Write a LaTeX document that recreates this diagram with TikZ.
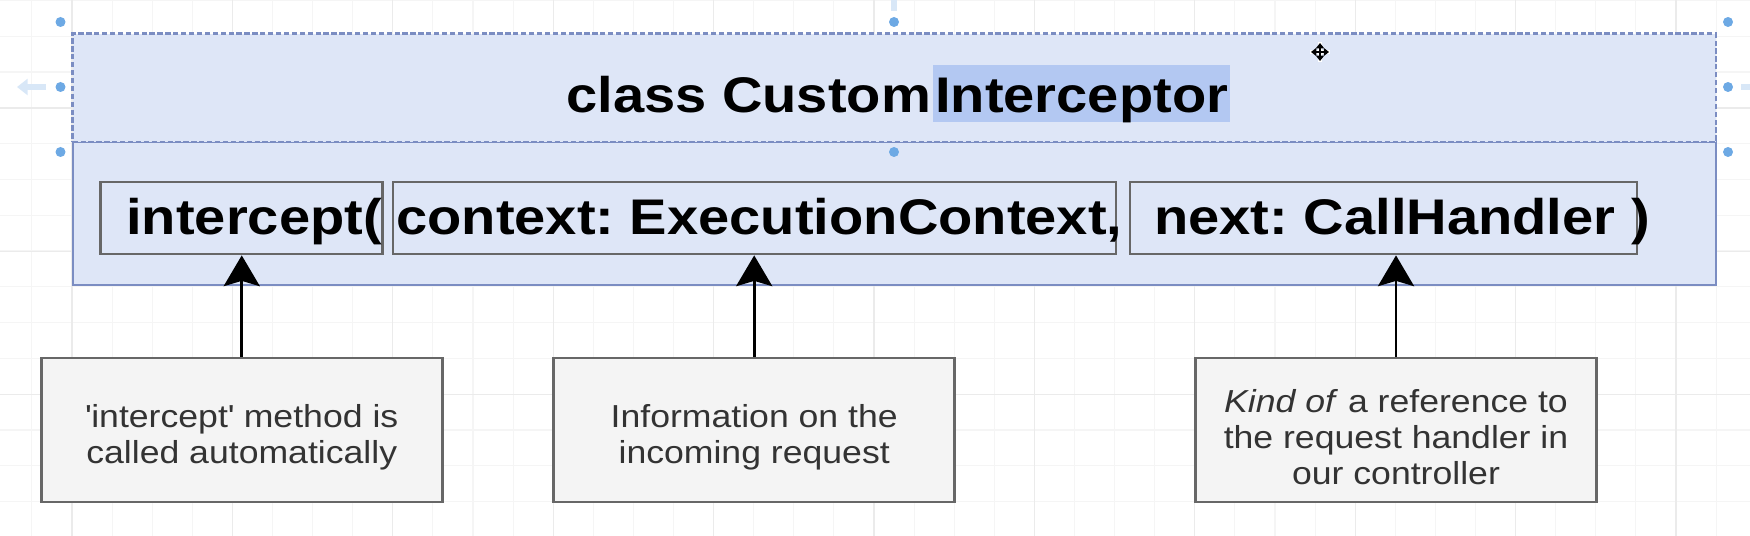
\documentclass[tikz,border=0pt]{standalone}
\usepackage{fontspec}
\setmainfont{Liberation Sans}[FakeStretch=1.12]
\usetikzlibrary{arrows.meta}
\frenchspacing
\newcommand{\notelift}{\rule{0pt}{21pt}}

\definecolor{classfill}{HTML}{DEE6F7}
\definecolor{classline}{HTML}{7B8DC2}
\definecolor{selfill}{HTML}{B3C8F2}
\definecolor{notefill}{HTML}{F4F4F4}
\definecolor{noteline}{HTML}{676767}
\definecolor{notetext}{HTML}{333333}
\definecolor{handleblue}{HTML}{6DA9E4}
\definecolor{handlefaint}{HTML}{D8E7F7}
\definecolor{gridminor}{HTML}{F5F5F5}
\definecolor{gridmajor}{HTML}{EBEBEB}

\begin{document}
\begin{tikzpicture}[x=0.02cm, y=-0.02cm,
    classpart/.style={draw=classline, fill=classfill, line width=1.1pt, inner sep=0pt},
    parambox/.style={draw=noteline, line width=1.6pt, minimum height=1.44cm, inner sep=0pt},
    codetext/.style={font=\fontsize{28.5}{34}\selectfont\bfseries, inner sep=0pt, anchor=base west},
    notebox/.style={draw=noteline, fill=notefill, line width=1.6pt, minimum width=8.02cm,
      minimum height=2.88cm, align=center, text=notetext, font=\fontsize{18.1}{20.5}\selectfont},
    pointer/.style={line width=1.55pt, -{Stealth[length=17.5pt, width=20.5pt, inset=3pt]}},
    movetip/.style={line width=0.9pt, {Triangle[length=3pt, width=4.5pt]}-{Triangle[length=3pt, width=4.5pt]}}]
      \useasboundingbox (0,0) rectangle (1750,536);
      % grid
      \foreach \k in {-1,...,41}
        \draw[gridminor, line width=0.6pt] ({72+40.1*\k},0) -- ({72+40.1*\k},536);
      \foreach \k in {0,...,14}
        \draw[gridminor, line width=0.6pt] (0,{0.4+35.8*\k}) -- (1750,{0.4+35.8*\k});
      \foreach \k in {0,...,10}
        \draw[gridmajor, line width=0.6pt] ({72+160.4*\k},0) -- ({72+160.4*\k},536);
      \foreach \k in {0,1,2}
        \draw[gridmajor, line width=0.6pt] (0,{108+143.2*\k}) -- (1750,{108+143.2*\k});

      \node[classpart, minimum width=32.87cm, minimum height=2.86cm] (body) at (894.25,213.5) {};
      \node[classpart, line width=1.4pt, dash pattern=on 3pt off 1.5pt, minimum width=32.87cm, minimum height=2.17cm] (head) at (894.25,87.75) {};
      \node[codetext] (titleA) at (566,112.7) {class Custom};
      \node[codetext, fill=selfill, text height=0.954cm, text depth=0.18cm, inner xsep=1pt] (titleB) at ([xshift=1pt]titleA.base east) {Interceptor};

      \node[parambox, minimum width=5.65cm] (mIntercept) at (241.5,218) {};
      \node[parambox, minimum width=14.46cm] (mContext) at (754.5,218) {};
      \node[parambox, minimum width=10.14cm] (mNext) at (1383.5,218) {};
      \node[codetext] (tIntercept) at (126,235) {intercept(};
      \node[codetext] (tContext) at (396,235) {context: ExecutionContext,};
      \node[codetext] (tNext) at (1154,235) {next: CallHandler )};

      \node[notebox] (noteA) at (241.75,430) {\notelift\textquotesingle intercept\textquotesingle{} method is\\called automatically};
      \node[notebox] (noteB) at (754.2,430) {\notelift Information on the\\incoming request};
      \node[notebox] (noteC) at (1396,430) {\notelift\textit{Kind of\/} a reference to\\the request handler in\\our controller};

      \draw[pointer] (noteA.north) -- (noteA.north |- mIntercept.south);
      \draw[pointer] (noteB.north) -- (noteB.north |- mContext.south);
      \draw[pointer] (noteC.north) -- (noteC.north |- mNext.south);

      % selection handles
      \foreach \p in {(60.5,22),(60.5,87),(60.5,152),(894,22),(894,152),(1728,22),(1728,87),(1728,152)}
        \fill[handleblue] \p circle[radius=5];
      \draw[handlefaint, line width=3pt, -{Triangle[length=6pt, width=9pt]}] (46,87) -- (17,87);
      \draw[handlefaint, line width=3pt] (894,0) -- (894,11);
      \draw[handlefaint, line width=3pt] (1741,87) -- (1750,87);
      \draw[white, line width=2.4pt] (1310,52) -- (1330,52) (1320,42) -- (1320,62);
      \draw[movetip] (1311,52) -- (1329,52);
      \draw[movetip] (1320,43) -- (1320,61);
\end{tikzpicture}
\end{document}
